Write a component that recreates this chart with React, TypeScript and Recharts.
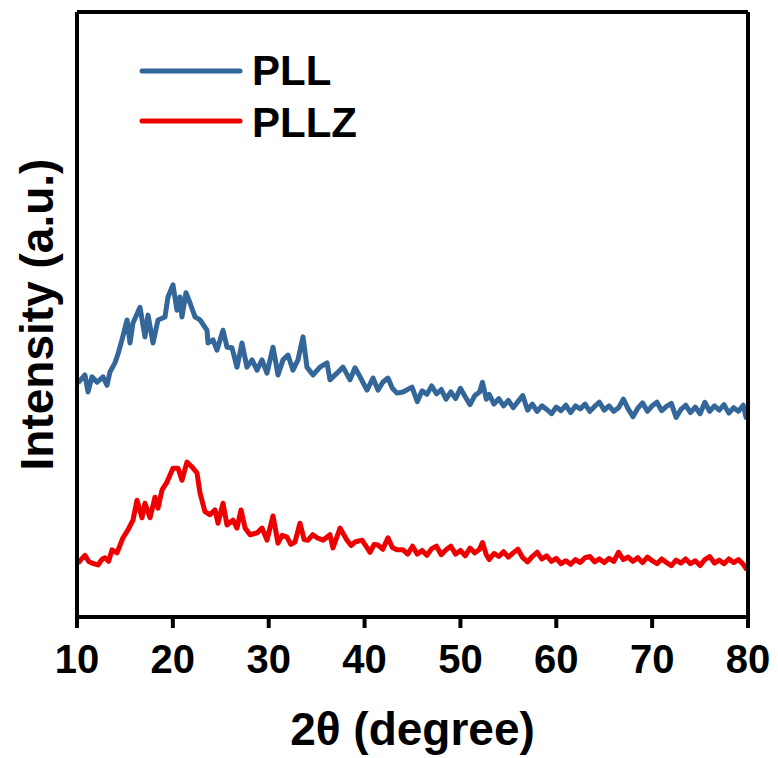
import { Label, Legend, Line, LineChart, XAxis, YAxis } from "recharts";

const pllTheta = [
  10.1, 10.83, 11.15, 11.56, 12.1, 12.71, 13.13, 13.44, 13.96, 14.3,
  14.69, 15.22, 15.53, 15.84, 16.57, 17.09, 17.41, 17.93, 18.45, 19.18,
  19.49, 20.01, 20.43, 20.74, 20.95, 21.37, 21.79, 22.31, 22.83, 23.56,
  23.67, 24.19, 24.6, 25.23, 25.65, 26.17, 26.69, 27.21, 27.73, 28.26,
  28.78, 29.3, 29.82, 30.45, 30.97, 31.49, 32.01, 32.53, 33.05, 33.58,
  33.99, 34.62, 35.35, 36.08, 36.39, 37.12, 37.75, 38.48, 39.0, 39.52,
  40.25, 40.88, 41.4, 41.9, 42.44, 42.9, 43.38, 44.01, 44.95,
  45.0, 45.5, 46.0, 46.5, 47.0, 47.5, 48.0, 48.5, 49.0, 49.5,
  50.0, 50.5, 51.0, 51.5, 52.0, 52.3, 52.7, 53.0, 53.5, 54.0,
  54.5, 55.0, 55.5, 56.0, 56.5, 57.0, 57.5, 58.0, 58.5, 59.0,
  59.5, 60.0, 60.5, 61.0, 61.5, 62.0, 62.5, 63.0, 63.5, 64.0,
  64.5, 65.0, 65.5, 66.0, 66.5, 67.0, 67.5, 68.0, 68.5, 69.0,
  69.5, 70.0, 70.5, 71.0, 71.5, 72.0, 72.5, 73.0, 73.5, 74.0,
  74.5, 75.0, 75.5, 76.0, 76.5, 77.0, 77.5, 78.0, 78.5, 79.0,
  79.5, 79.8, 80
];
const pllIntensity = [
  387, 400, 372, 397, 388, 397, 383, 405, 420, 436,
  458, 491, 453, 486, 512, 463, 499, 453, 491, 496,
  529, 549, 507, 529, 496, 536, 519, 496, 491, 474,
  453, 458, 441, 474, 446, 445, 413, 453, 413, 425,
  408, 425, 403, 446, 400, 425, 433, 408, 425, 463,
  413, 400, 413, 420, 392, 403, 413, 392, 412, 397,
  375, 395, 375, 388, 395, 378, 370, 372, 380,
  378, 356, 374, 368, 382, 369, 376, 360, 372, 361,
  378, 364, 351, 366, 372, 388, 360, 368, 352, 361,
  349, 358, 346, 356, 366, 342, 352, 340, 349, 343,
  336, 347, 341, 350, 338, 349, 344, 352, 340, 348,
  355, 342, 349, 340, 346, 360, 344, 331, 345, 354,
  340, 349, 355, 341, 348, 353, 330, 343, 350, 338,
  347, 336, 355, 340, 349, 342, 351, 337, 346, 340,
  350, 330, 337
];

const pllzTheta = [
  10.1, 10.83, 11.2, 11.56, 12.19, 12.6, 12.92, 13.3, 13.65, 14.17,
  14.8, 15.32, 15.84, 16.26, 16.78, 17.09, 17.62, 18.14, 18.45, 18.87,
  19.39, 20.01, 20.54, 20.95, 21.47, 22.0, 22.52, 22.83, 23.35, 23.87,
  24.4, 24.71, 25.23, 25.65, 26.27, 26.69, 27.11, 27.53, 28.05, 28.78,
  29.3, 29.82, 30.45, 30.97, 31.4, 31.91, 32.3, 32.74, 33.26, 33.7,
  34.1, 34.6, 35.04, 35.66, 36.39, 36.7, 37.44, 38.17, 38.6, 39.0,
  39.73, 40.2, 40.57, 41.0, 41.4, 41.9, 42.44, 42.9, 43.38, 44.01,
  44.5, 45.0, 45.5, 46.0, 46.5, 47.0, 47.5, 48.0, 48.5, 49.0,
  49.5, 50.0, 50.5, 51.0, 51.5, 52.0, 52.3, 52.7, 53.0, 53.5,
  54.0, 54.5, 55.0, 55.5, 56.0, 56.5, 57.0, 57.5, 58.0, 58.5,
  59.0, 59.5, 60.0, 60.5, 61.0, 61.5, 62.0, 62.5, 63.0, 63.5,
  64.0, 64.5, 65.0, 65.5, 66.0, 66.5, 67.0, 67.5, 68.0, 68.5,
  69.0, 69.5, 70.0, 70.5, 71.0, 71.5, 72.0, 72.5, 73.0, 73.5,
  74.0, 74.5, 75.0, 75.5, 76.0, 76.5, 77.0, 77.5, 78.0, 78.5,
  79.0, 79.5, 79.8, 80
];
const pllzIntensity = [
  89, 102, 92, 89, 86, 95, 98, 92, 111, 106,
  131, 144, 160, 193, 164, 188, 164, 198, 180, 210,
  223, 246, 246, 226, 256, 248, 238, 205, 174, 169,
  177, 155, 188, 152, 160, 147, 177, 147, 136, 139,
  147, 127, 167, 122, 135, 132, 120, 124, 155, 128,
  127, 136, 131, 127, 136, 114, 147, 127, 118, 124,
  127, 116, 107, 120, 119, 112, 131, 115, 111, 111,
  104, 117, 104, 110, 102, 113, 117, 103, 111, 117,
  104, 110, 101, 114, 106, 112, 123, 103, 95, 105,
  100, 108, 99, 106, 112, 98, 91, 100, 107, 96,
  101, 92, 97, 88, 93, 87, 95, 90, 98, 100,
  91, 96, 90, 97, 92, 107, 95, 99, 92, 98,
  90, 99, 93, 88, 96, 90, 85, 94, 89, 96,
  88, 93, 85, 95, 100, 89, 94, 88, 96, 90,
  95, 87, 80, 86
];

const seriesNames = ["PLL", "PLLZ"];
const xTicks = [10, 20, 30, 40, 50, 60, 70, 80];

const pllData = pllTheta.map((theta, i) => ({ theta, pll: pllIntensity[i] }));
const pllzData = pllzTheta.map((theta, i) => ({ theta, pllz: pllzIntensity[i] }));

const FONT = '"Liberation Sans", Arial, sans-serif';
const frame = { stroke: "#000", strokeWidth: 4 };

function XTick({ x, y, payload }: any) {
  return (
    <text x={x} y={y + 45} textAnchor="middle" fontFamily={FONT} fontWeight="bold" fontSize={40} fill="#000">
      {payload.value}
    </text>
  );
}

function LegendBox({ payload }: any) {
  return (
    <svg width={420} height={150} style={{ display: "block" }}>
      {(payload || []).map((p: any, i: number) => (
        <g key={i}>
          <line x1={134} x2={232} y1={63 + i * 50} y2={63 + i * 50} stroke={p.color} strokeWidth={5} strokeLinecap="round" />
          <text x={244} y={77 + i * 52} fontFamily={FONT} fontWeight="bold" fontSize={42} fill="#000">
            {seriesNames[i]}
          </text>
        </g>
      ))}
    </svg>
  );
}

export default function App() {
  return (
    <LineChart width={770} height={750} margin={{ top: 3, right: 29, bottom: 0, left: 68 }}>
      <XAxis
        type="number"
        dataKey="theta"
        domain={[10, 80]}
        ticks={xTicks}
        allowDataOverflow
        height={141}
        tickSize={11}
        tickMargin={0}
        axisLine={frame}
        tickLine={frame}
        tick={<XTick />}
      >
        <Label
          content={({ viewBox }: any) => (
            <text
              x={viewBox.x + viewBox.width / 2}
              y={viewBox.y + 128}
              textAnchor="middle"
              fontFamily={FONT}
              fontWeight="bold"
              fontSize={46}
              fill="#000"
            >
              2θ (degree)
            </text>
          )}
        />
      </XAxis>
      <XAxis xAxisId="top" orientation="top" type="number" domain={[10, 80]} height={1} tick={false} tickLine={false} axisLine={frame} />
      <YAxis type="number" domain={[0, 1000]} width={1} tick={false} tickLine={false} axisLine={frame}>
        <Label
          content={({ viewBox }: any) => {
            const cx = 45;
            const cy = viewBox.y + viewBox.height / 2;
            return (
              <text
                x={cx}
                y={cy}
                transform={`rotate(-90 ${cx} ${cy})`}
                textAnchor="middle"
                fontFamily={FONT}
                fontWeight="bold"
                fontSize={46}
                fill="#000"
              >
                Intensity (a.u.)
              </text>
            );
          }}
        />
      </YAxis>
      <YAxis yAxisId="right" orientation="right" type="number" domain={[0, 1000]} width={1} tick={false} tickLine={false} axisLine={frame} />
      <Legend
        layout="vertical"
        align="center"
        verticalAlign="middle"
        wrapperStyle={{ top: 0, left: 0, width: 420 }}
        content={<LegendBox />}
      />
      <Line
        data={pllData}
        dataKey="pll"
        name="PLL"
        type="linear"
        stroke="#336699"
        strokeWidth={5}
        strokeLinejoin="round"
        dot={false}
        activeDot={false}
        isAnimationActive={false}
      />
      <Line
        data={pllzData}
        dataKey="pllz"
        name="PLLZ"
        type="linear"
        stroke="#ee0000"
        strokeWidth={5}
        strokeLinejoin="round"
        dot={false}
        activeDot={false}
        isAnimationActive={false}
      />
    </LineChart>
  );
}
